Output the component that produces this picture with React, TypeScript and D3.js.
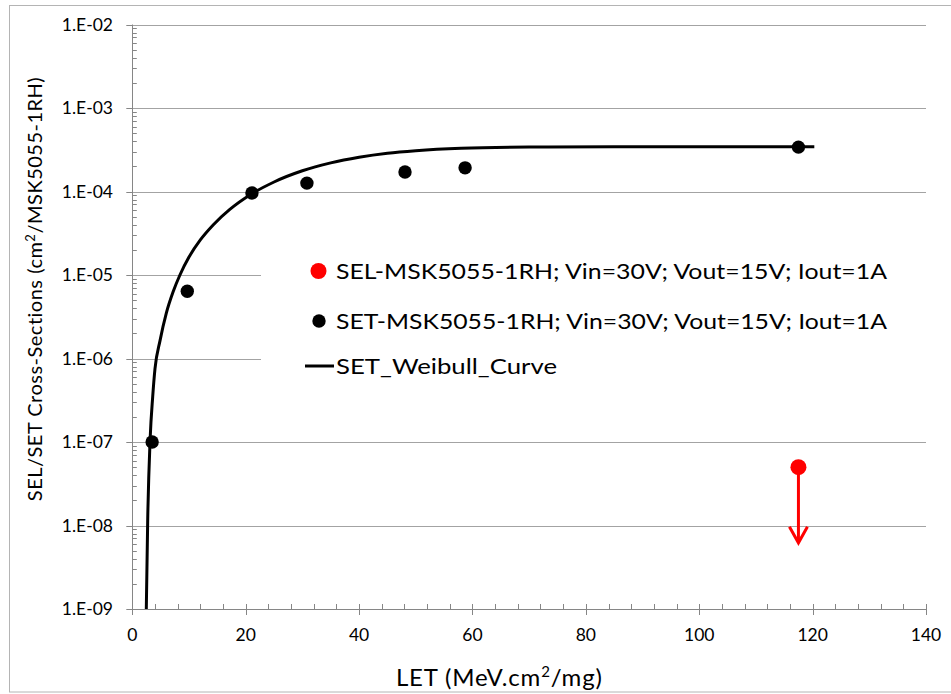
import React, { useEffect, useRef } from 'react'
import * as d3 from 'd3'

// SET measured points
const setLet = [3.5, 9.7, 21.1, 30.8, 48.1, 58.7, 117.5]
const setSigma = [1.0e-7, 6.4e-6, 9.6e-5, 1.26e-4, 1.71e-4, 1.92e-4, 3.4e-4]

// SEL point (upper limit, arrow down)
const selLet = [117.5]
const selSigma = [5.0e-8]
const selArrowEnd = [6.2e-9]

// Weibull fit
const weibullLet = [2.47, 2.72, 3.15, 3.6, 4.0, 4.9, 6.0, 7.2, 8.4, 10, 12, 14.3, 17.2, 21.1, 25, 30, 35, 40, 45, 50, 58, 70, 85, 100, 120.3]
const weibullSigma = [1e-9, 1.2e-8, 1.1e-7, 3.5e-7, 7.5e-7, 1.65e-6, 3.5e-6, 6.3e-6, 1.0e-5, 1.64e-5, 2.63e-5, 4.0e-5, 6.1e-5, 9.4e-5, 1.3e-4, 1.77e-4, 2.2e-4, 2.57e-4, 2.87e-4, 3.08e-4, 3.29e-4, 3.4e-4, 3.43e-4, 3.43e-4, 3.43e-4]

const xTicks = [0, 20, 40, 60, 80, 100, 120, 140]
const yTicks = [1e-9, 1e-8, 1e-7, 1e-6, 1e-5, 1e-4, 1e-3, 1e-2]
const yTickLabels = ['1.E-09', '1.E-08', '1.E-07', '1.E-06', '1.E-05', '1.E-04', '1.E-03', '1.E-02']

const legendLabels = [
    'SEL-MSK5055-1RH; Vin=30V; Vout=15V; Iout=1A',
    'SET-MSK5055-1RH; Vin=30V; Vout=15V; Iout=1A',
    'SET_Weibull_Curve'
]

const FONT = 'Lato, "Open Sans", sans-serif'

export default function App() {
    const ref = useRef<SVGSVGElement>(null)

    useEffect(() => {
        const svg = d3.select(ref.current)
        svg.selectAll('*').remove()

        const x = d3.scaleLinear().domain([0, 140]).range([132.3, 926])
        const y = d3.scaleLog().domain([1e-9, 1e-2]).range([609, 24.5])
        const axisColor = '#868686'
        const gridColor = '#a3a3a3'
        const snap = (v: number) => Math.round(v) + 0.5

        // chart border
        svg.append('rect')
            .attr('x', 9.5).attr('y', 5.5)
            .attr('width', 960).attr('height', 686.5)
            .attr('fill', 'white')
            .attr('stroke', '#b4b4b4')

        // horizontal gridlines
        svg.append('g').selectAll('line')
            .data(yTicks)
            .enter()
            .append('line')
            .attr('x1', x(0)).attr('x2', x(140))
            .attr('y1', d => snap(y(d)))
            .attr('y2', d => snap(y(d)))
            .attr('stroke', gridColor)

        // y minor ticks (inside)
        const minor: number[] = []
        for (let e = -9; e < -2; e++) {
            for (let m = 2; m <= 9; m++) minor.push(m * Math.pow(10, e))
        }
        svg.append('g').selectAll('line')
            .data(minor)
            .enter()
            .append('line')
            .attr('x1', x(0)).attr('x2', x(0) + 4.5)
            .attr('y1', d => snap(y(d)))
            .attr('y2', d => snap(y(d)))
            .attr('stroke', axisColor)

        // y major ticks (outside)
        svg.append('g').selectAll('line')
            .data(yTicks)
            .enter()
            .append('line')
            .attr('x1', x(0) - 6).attr('x2', x(0))
            .attr('y1', d => snap(y(d)))
            .attr('y2', d => snap(y(d)))
            .attr('stroke', axisColor)

        // axis lines
        svg.append('line')
            .attr('x1', snap(x(0))).attr('x2', snap(x(0)))
            .attr('y1', y(1e-2)).attr('y2', y(1e-9))
            .attr('stroke', axisColor)
        svg.append('line')
            .attr('x1', x(0)).attr('x2', x(140))
            .attr('y1', snap(y(1e-9))).attr('y2', snap(y(1e-9)))
            .attr('stroke', axisColor)

        // x minor ticks every 4
        const xMinor = d3.range(0, 141, 4).filter(d => d % 20 !== 0)
        svg.append('g').selectAll('line')
            .data(xMinor)
            .enter()
            .append('line')
            .attr('x1', d => snap(x(d))).attr('x2', d => snap(x(d)))
            .attr('y1', y(1e-9) - 5).attr('y2', y(1e-9))
            .attr('stroke', axisColor)

        // x major ticks (cross)
        svg.append('g').selectAll('line')
            .data(xTicks)
            .enter()
            .append('line')
            .attr('x1', d => snap(x(d))).attr('x2', d => snap(x(d)))
            .attr('y1', y(1e-9) - 5).attr('y2', y(1e-9) + 6)
            .attr('stroke', axisColor)

        // tick labels
        svg.append('g').selectAll('text')
            .data(yTicks)
            .enter()
            .append('text')
            .attr('x', 113)
            .attr('y', d => y(d) + 6)
            .attr('text-anchor', 'end')
            .attr('font-family', FONT)
            .attr('font-size', 17.5)
            .attr('fill', '#000')
            .text((d, i) => yTickLabels[i])

        svg.append('g').selectAll('text')
            .data(xTicks)
            .enter()
            .append('text')
            .attr('x', d => x(d))
            .attr('y', 641)
            .attr('text-anchor', 'middle')
            .attr('font-family', FONT)
            .attr('font-size', 17.5)
            .attr('fill', '#000')
            .text(d => d)

        // axis titles
        const xt = svg.append('text')
            .attr('x', 396).attr('y', 686)
            .attr('font-family', FONT)
            .attr('font-size', 24)
            .attr('letter-spacing', 0.8)
            .attr('fill', '#000')
        xt.append('tspan').text('LET (MeV.cm')
        xt.append('tspan').attr('font-size', 15).attr('dy', -9).text('2')
        xt.append('tspan').attr('dy', 9).text('/mg)')

        const yt = svg.append('text')
            .attr('transform', 'translate(42,289) rotate(-90)')
            .attr('text-anchor', 'middle')
            .attr('font-family', FONT)
            .attr('font-size', 20)
            .attr('letter-spacing', 0.5)
            .attr('fill', '#000')
        yt.append('tspan').text('SEL/SET Cross-Sections (cm')
        yt.append('tspan').attr('font-size', 13).attr('dy', -7).text('2')
        yt.append('tspan').attr('dy', 7).text('/MSK5055-1RH)')

        // legend box (white, hides gridlines behind it)
        svg.append('rect')
            .attr('x', 261).attr('y', 240)
            .attr('width', 667).attr('height', 150)
            .attr('fill', 'white')

        // weibull curve
        const line = d3.line<number>()
            .x((d, i) => x(weibullLet[i]))
            .y(d => y(d))
            .curve(d3.curveMonotoneX)
        svg.append('path')
            .datum(weibullSigma)
            .attr('d', line)
            .attr('fill', 'none')
            .attr('stroke', '#000')
            .attr('stroke-width', 3)

        // SET points
        svg.append('g').selectAll('circle')
            .data(setSigma)
            .enter()
            .append('circle')
            .attr('cx', (d, i) => x(setLet[i]))
            .attr('cy', d => y(d))
            .attr('r', 6.7)
            .attr('fill', '#000')

        // SEL arrow + point
        selSigma.forEach((s, i) => {
            const cx = x(selLet[i])
            const tip = y(selArrowEnd[i])
            svg.append('line')
                .attr('x1', cx).attr('x2', cx)
                .attr('y1', y(s)).attr('y2', tip - 1)
                .attr('stroke', '#ff0000')
                .attr('stroke-width', 3)
            svg.append('path')
                .attr('d', `M${cx - 9},${tip - 16}L${cx},${tip}L${cx + 9},${tip - 16}`)
                .attr('fill', 'none')
                .attr('stroke', '#ff0000')
                .attr('stroke-width', 3)
            svg.append('circle')
                .attr('cx', cx).attr('cy', y(s))
                .attr('r', 8)
                .attr('fill', '#ff0000')
        })

        // legend
        const rows = [271, 321, 366]
        svg.append('circle').attr('cx', 318.5).attr('cy', rows[0]).attr('r', 8).attr('fill', '#ff0000')
        svg.append('circle').attr('cx', 319).attr('cy', rows[1]).attr('r', 6.7).attr('fill', '#000')
        svg.append('line')
            .attr('x1', 305).attr('x2', 334)
            .attr('y1', rows[2]).attr('y2', rows[2])
            .attr('stroke', '#000').attr('stroke-width', 3)

        const legendWidths = [551, 551, 221]
        svg.append('g').selectAll('text')
            .data(legendLabels)
            .enter()
            .append('text')
            .attr('x', 336)
            .attr('y', (d, i) => rows[i] + 8)
            .attr('font-family', FONT)
            .attr('font-size', 22)
            .attr('fill', '#000')
            .attr('textLength', (d, i) => legendWidths[i])
            .attr('lengthAdjust', 'spacingAndGlyphs')
            .text(d => d)
    }, [])

    return (
        <svg ref={ref} width={951} height={694}
            style={{ position: 'absolute', left: 0, top: 0, background: 'white' }} />
    )
}
